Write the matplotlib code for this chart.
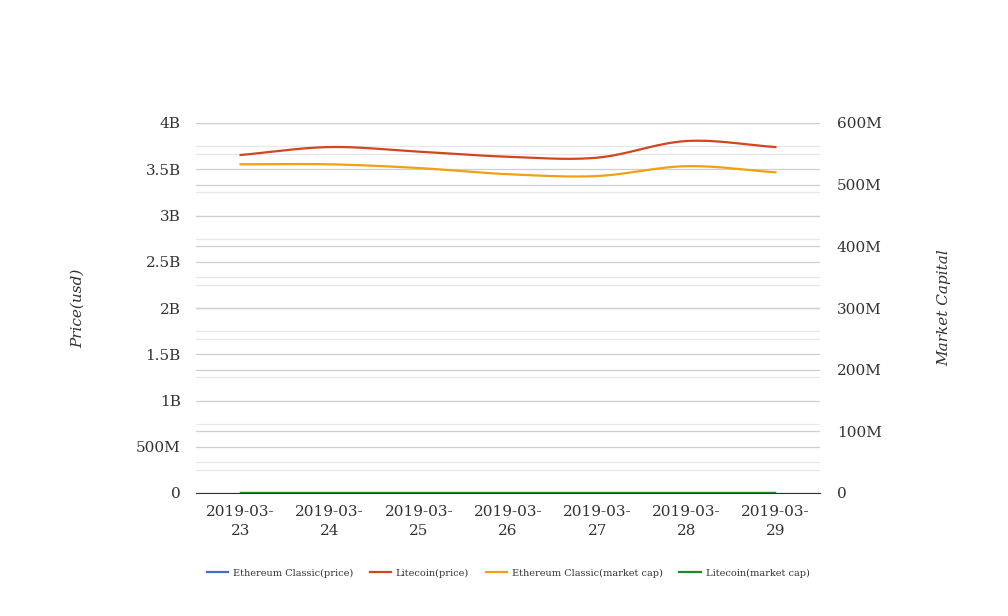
import numpy as np
import matplotlib.pyplot as plt
from matplotlib.ticker import MultipleLocator, FuncFormatter, NullFormatter

dates = ["2019-03-23", "2019-03-24", "2019-03-25", "2019-03-26",
         "2019-03-27", "2019-03-28", "2019-03-29"]

# left axis (usd)
etc_price = [4.6, 4.6, 4.5, 4.4, 4.4, 4.6, 4.5]
ltc_price = [3.654e9, 3.74e9, 3.69e9, 3.635e9, 3.625e9, 3.805e9, 3.74e9]
# right axis
etc_mcap = [533e6, 533e6, 527e6, 517e6, 514e6, 530e6, 520e6]
ltc_mcap = [60.5, 61.0, 60.2, 59.6, 59.4, 61.8, 61.0]


def smooth(y, n=30):
    # cubic hermite through the points, for the rounded look of the lines
    y = np.asarray(y, dtype=float)
    x = np.arange(len(y))
    d = np.gradient(y)
    xs, ys = [], []
    for i in range(len(y) - 1):
        t = np.linspace(0, 1, n, endpoint=False)
        h00 = 2 * t**3 - 3 * t**2 + 1
        h10 = t**3 - 2 * t**2 + t
        h01 = -2 * t**3 + 3 * t**2
        h11 = t**3 - t**2
        xs.append(x[i] + t)
        ys.append(h00 * y[i] + h10 * d[i] + h01 * y[i + 1] + h11 * d[i + 1])
    xs.append([x[-1]])
    ys.append([y[-1]])
    return np.concatenate(xs), np.concatenate(ys)


def fmt_big(v, pos):
    if v == 0:
        return "0"
    if abs(v) >= 1e9:
        s = f"{v / 1e9:g}B"
    else:
        s = f"{v / 1e6:g}M"
    return s


plt.rcParams["font.family"] = ["DejaVu Serif"]

fig = plt.figure(figsize=(10.08, 6.16), dpi=100)
rect = [196 / 1008, 1 - 493 / 616, 624 / 1008, 370 / 616]

# background axes only for the right-hand grid, so it stays under every line
gax = fig.add_axes(rect, zorder=0)
ax = fig.add_axes(rect, zorder=1)
ax2 = ax.twinx()
ax2.set_zorder(2)
ax.patch.set_visible(False)
ax2.patch.set_visible(False)

for a in (gax, ax, ax2):
    a.set_xlim(-0.5, 6.5)
    for s in a.spines.values():
        s.set_visible(False)
    a.tick_params(which="both", length=0, labelsize=11, labelcolor="#333333")

ax.set_ylim(0, 4e9)
ax2.set_ylim(0, 600e6)
gax.set_ylim(0, 600e6)

ax.yaxis.set_major_locator(MultipleLocator(500e6))
ax.yaxis.set_minor_locator(MultipleLocator(250e6))
ax2.yaxis.set_major_locator(MultipleLocator(100e6))
gax.yaxis.set_major_locator(MultipleLocator(100e6))
gax.yaxis.set_minor_locator(MultipleLocator(50e6))
ax.yaxis.set_major_formatter(FuncFormatter(fmt_big))
ax2.yaxis.set_major_formatter(FuncFormatter(fmt_big))
gax.yaxis.set_major_formatter(NullFormatter())
gax.set_xticks([])

ax.grid(axis="y", which="major", color="#cfcfcf", lw=0.9)
ax.grid(axis="y", which="minor", color="#e8e8e8", lw=0.9)
gax.grid(axis="y", which="major", color="#cfcfcf", lw=0.9)
gax.grid(axis="y", which="minor", color="#e8e8e8", lw=0.9)
ax.set_axisbelow(True)

ax.spines["bottom"].set_visible(True)
ax.spines["bottom"].set_color("#333333")
ax.tick_params(axis="y", pad=11)
ax2.tick_params(axis="y", pad=12)

ax.set_xticks(range(len(dates)))
ax.set_xticklabels([d[:8] + "\n" + d[8:] for d in dates], fontsize=11,
                   linespacing=1.45)
ax.tick_params(axis="x", pad=9)

ax.set_ylabel("Price(usd)", fontsize=11, style="italic", color="#333333",
              labelpad=37)
ax2.set_ylabel("Market Capital", fontsize=11, style="italic", color="#333333",
               labelpad=40)

l1, = ax.plot(*smooth(etc_price), color="#3d6fc6", lw=1.6,
              label="Ethereum Classic(price)")
l2, = ax.plot(*smooth(ltc_price), color="#d2451e", lw=1.6,
              label="Litecoin(price)")
l3, = ax2.plot(*smooth(etc_mcap), color="#f0a010", lw=1.6,
               label="Ethereum Classic(market cap)")
l4, = ax.plot(*smooth(ltc_mcap), color="#1f8a24", lw=1.6,
              label="Litecoin(market cap)", zorder=3)

fig.legend(handles=[l1, l2, l3, l4], loc="center", ncol=4,
           bbox_to_anchor=(508 / 1008, 1 - 573 / 616), frameon=False,
           fontsize=7, handlelength=2.2, handletextpad=0.5,
           columnspacing=1.7, labelcolor="#333333")

fig.savefig("out.png", dpi=100)
